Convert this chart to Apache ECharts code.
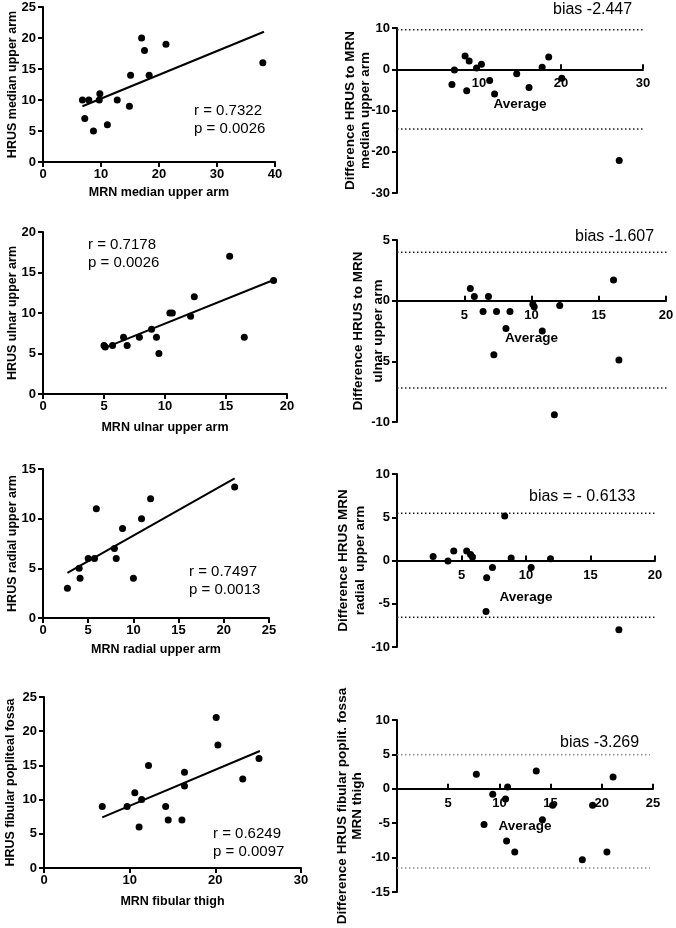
<!DOCTYPE html>
<html><head><meta charset="utf-8">
<script src="https://cdn.jsdelivr.net/npm/echarts@6/dist/echarts.min.js"></script>
<style>html,body{margin:0;padding:0;background:#fff}#c{width:676px;height:928px}</style>
</head><body><div id="c"></div>
<script>
// ---- Panel 1: median nerve, correlation ----
const medianMRN  = [6.8, 7.9, 7.2, 8.7, 9.7, 9.8, 11.1, 12.8, 14.9, 15.1, 17.0, 17.5, 18.3, 21.2, 37.9];
const medianHRUS = [10, 10, 7, 5, 10, 11, 6, 10, 9, 14, 20, 18, 14, 19, 16];
const medianFitX = [6.8, 38.1];
const medianFitY = [9.0, 21.0];
// ---- Panel 2: median nerve, Bland-Altman ----
const medianAvg  = [6.7, 7.0, 8.3, 8.5, 8.8, 9.7, 10.3, 11.3, 11.9, 14.6, 16.1, 17.7, 18.5, 20.1, 27.1];
const medianDiff = [-3.7, -0.2, 3.2, -5.2, 2.0, 0.3, 1.2, -2.7, -6.0, -1.1, -4.4, 0.5, 3.0, -2.2, -22.1];
const medianLimits = [9.6, -14.5];
// ---- Panel 3: ulnar nerve, correlation ----
const ulnarMRN  = [5.0, 5.1, 5.7, 6.6, 6.9, 7.9, 8.9, 9.3, 9.5, 10.4, 10.6, 12.1, 12.4, 15.3, 16.5, 18.9];
const ulnarHRUS = [6, 5.8, 6, 7, 6, 7, 8, 7, 5, 10, 10, 9.6, 12, 17, 7, 14];
const ulnarFitX = [5.05, 19.1];
const ulnarFitY = [5.7, 14.2];
// ---- Panel 4: ulnar nerve, Bland-Altman ----
const ulnarAvg  = [5.45, 5.75, 6.4, 6.8, 7.2, 7.4, 8.1, 8.4, 10.1, 10.2, 10.8, 11.7, 12.1, 16.1, 16.5];
const ulnarDiff = [1.0, 0.35, -0.9, 0.35, -4.45, -0.9, -2.3, -0.9, -0.3, -0.5, -2.5, -9.4, -0.4, 1.7, -4.9];
const ulnarLimits = [4.0, -7.2];
// ---- Panel 5: radial nerve, correlation ----
const radialMRN  = [2.7, 4.0, 4.1, 5.0, 5.7, 5.9, 7.9, 8.1, 8.8, 10.0, 10.9, 11.9, 21.2];
const radialHRUS = [3, 5, 4, 6, 6, 11, 7, 6, 9, 4, 10, 12, 13.2];
const radialFitX = [2.7, 21.2];
const radialFitY = [4.55, 14.05];
// ---- Panel 6: radial nerve, Bland-Altman ----
const radialAvg  = [2.8, 3.95, 4.4, 5.4, 5.7, 5.85, 6.95, 6.9, 7.4, 8.35, 8.85, 10.4, 11.9, 17.2];
const radialDiff = [0.45, -0.05, 1.1, 1.1, 0.7, 0.4, -2.0, -5.9, -0.8, 5.15, 0.3, -0.8, 0.2, -8.0];
const radialLimits = [5.45, -6.55];
// ---- Panel 7: fibular nerve, correlation ----
const fibMRN  = [6.8, 9.7, 10.6, 11.1, 11.4, 12.2, 14.2, 14.5, 16.1, 16.4, 16.4, 20.1, 20.3, 23.2, 25.1];
const fibHRUS = [9, 9, 11, 6, 10, 15, 9, 7, 7, 14, 12, 22, 18, 13, 16];
const fibFitX = [6.8, 25.2];
const fibFitY = [7.4, 17.1];
// ---- Panel 8: fibular nerve, Bland-Altman ----
const fibAvg  = [7.75, 8.5, 9.35, 10.6, 10.8, 10.7, 11.5, 13.6, 14.2, 15.2, 18.1, 19.1, 20.5, 21.1];
const fibDiff = [2.1, -5.2, -0.8, -1.5, 0.25, -7.6, -9.2, 2.6, -4.5, -2.4, -10.3, -2.4, -9.2, 1.7];
const fibLimits = [4.95, -11.5];

const FONT = '"Liberation Sans", Arial, Helvetica, sans-serif';

const panels = [
  {kind:'corr', grid:[43,7,232,155], x:[0,40,10,'MRN median upper arm',24], y:[0,25,5,'HRUS median upper arm',23],
   px:medianMRN, py:medianHRUS, fx:medianFitX, fy:medianFitY,
   notes:[['r = 0.7322',194,111],['p = 0.0026',194,129]]},
  {kind:'ba', grid:[397,28,246,165], x:[0,30,10,'Average',28], y:[-30,10,10,'Difference HRUS to MRN\nmedian upper arm',24,15],
   px:medianAvg, py:medianDiff, lim:medianLimits, limEnd:30, limColor:'#222',
   notes:[['bias -2.447',553,10]]},
  {kind:'corr', grid:[43,232,244,162], x:[0,20,5,'MRN ulnar upper arm',27], y:[0,20,5,'HRUS ulnar upper arm',23],
   px:ulnarMRN, py:ulnarHRUS, fx:ulnarFitX, fy:ulnarFitY,
   notes:[['r = 0.7178',88,245],['p = 0.0026',88,263]]},
  {kind:'ba', grid:[397,240,269,182], x:[0,20,5,'Average',31], y:[-10,5,5,'Difference HRUS to MRN\nulnar upper arm',9,20],
   px:ulnarAvg, py:ulnarDiff, lim:ulnarLimits, limEnd:20.55, limColor:'#222',
   notes:[['bias -1.607',575,237]]},
  {kind:'corr', grid:[43,469,226,149], x:[0,25,5,'MRN radial upper arm',25], y:[0,15,5,'HRUS radial upper arm',23],
   px:radialMRN, py:radialHRUS, fx:radialFitX, fy:radialFitY,
   notes:[['r = 0.7497',189,572],['p = 0.0013',189,590]]},
  {kind:'ba', grid:[397,474,258,173], x:[0,20,5,'Average',29.5], y:[-10,10,5,'Difference HRUS MRN\nradial  upper arm',28,17],
   px:radialAvg, py:radialDiff, lim:radialLimits, limEnd:20.6, limColor:'#222',
   notes:[['bias = - 0.6133',529,497]]},
  {kind:'corr', grid:[44,697,257,171], x:[0,30,10,'MRN fibular thigh',27], y:[0,25,5,'HRUS fibular popliteal fossa',25.5],
   px:fibMRN, py:fibHRUS, fx:fibFitX, fy:fibFitY,
   notes:[['r = 0.6249',213,834],['p = 0.0097',213,852]]},
  {kind:'ba', grid:[397,720,256,172], x:[0,25,5,'Average',30], y:[-15,10,5,'Difference HRUS fibular poplit. fossa\nMRN thigh',32,15],
   px:fibAvg, py:fibDiff, lim:fibLimits, limEnd:24.7, limColor:'#8a8a8a',
   notes:[['bias -3.269',560,743]]}
];

const grids = [], xAxes = [], yAxes = [], series = [], graphics = [];
const axisLine = {show:true, onZero:false, lineStyle:{color:'#000', width:2}};
const labelStyle = {color:'#000', fontWeight:'bold', fontSize:13, fontFamily:FONT};

panels.forEach((p, i) => {
  const isBA = p.kind === 'ba';
  const h = p.grid[3];
  // for Bland-Altman panels the x axis sits on the zero line of the y scale
  const zeroOffset = isBA ? -h * (0 - p.y[0]) / (p.y[1] - p.y[0]) : 0;
  grids.push({left:p.grid[0], top:p.grid[1], width:p.grid[2], height:h,
              containLabel:false, outerBoundsMode:'none', show:false});
  xAxes.push({
    type:'value', gridIndex:i, min:p.x[0], max:p.x[1], interval:p.x[2],
    position:'bottom', offset:zeroOffset,
    axisLine:axisLine,
    axisTick:{show:true, inside:isBA, length:5, lineStyle:{color:'#000', width:2}},
    axisLabel:{...labelStyle, margin:isBA ? 8 : 6, showMinLabel:!isBA},
    splitLine:{show:false},
    name:p.x[3], nameLocation:'middle', nameGap:p.x[4], nameMoveOverlap:false,
    nameTextStyle:{color:'#000', fontWeight:'bold', fontSize:isBA ? 13.5 : 12.5, fontFamily:FONT}
  });
  yAxes.push({
    type:'value', gridIndex:i, min:p.y[0], max:p.y[1], interval:p.y[2],
    axisLine:axisLine,
    axisTick:{show:true, inside:false, length:5, lineStyle:{color:'#000', width:2}},
    axisLabel:{...labelStyle, margin:7},
    splitLine:{show:false},
    name:p.y[3], nameLocation:'middle', nameGap:p.y[4], nameRotate:90, nameMoveOverlap:false,
    nameTextStyle:{color:'#000', fontWeight:'bold', fontSize:isBA ? 13.5 : 12.5, fontFamily:FONT,
                   lineHeight:p.y[5] || 15}
  });
  if (isBA) {
    p.lim.forEach(v => {
      series.push({type:'line', xAxisIndex:i, yAxisIndex:i, data:[[p.x[0], v],[p.limEnd, v]],
        symbol:'none', silent:true, clip:false, z:1,
        lineStyle:{color:p.limColor, width:1.5, type:[1.5,2.5]}});
    });
  } else {
    series.push({type:'line', xAxisIndex:i, yAxisIndex:i,
      data:p.fx.map((x, k) => [x, p.fy[k]]), symbol:'none', silent:true, z:2,
      lineStyle:{color:'#000', width:2}});
  }
  series.push({type:'scatter', xAxisIndex:i, yAxisIndex:i,
    data:p.px.map((x, k) => [x, p.py[k]]), symbol:'circle', symbolSize:7, z:3,
    itemStyle:{color:'#000', opacity:1}});
  p.notes.forEach(n => {
    graphics.push({type:'text', x:n[1], y:n[2], silent:true,
      style:{text:n[0], fill:'#000', fontSize:isBA ? 16 : 15, fontFamily:FONT, verticalAlign:'middle', align:'left'}});
  });
});

const chart = echarts.init(document.getElementById('c'), null, {renderer:'canvas'});
chart.setOption({
  animation:false,
  backgroundColor:'#fff',
  grid:grids, xAxis:xAxes, yAxis:yAxes, series:series, graphic:graphics
});
</script>
</body></html>
